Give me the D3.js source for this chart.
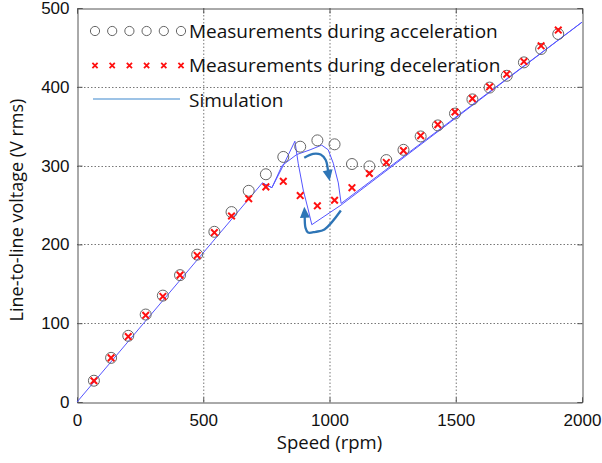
<!DOCTYPE html>
<html><head><meta charset="utf-8">
<script src="https://cdn.jsdelivr.net/npm/d3@7"></script>
<style>body{margin:0;background:#fff}svg{display:block}</style>
</head><body>
<svg id="c" width="602" height="463"></svg>
<script>
const speeds = [67,135,203,272,340,408,476,544,612,680,748,817,884,952,1020,1089,1158,1225,1293,1361,1429,1497,1566,1634,1702,1770,1838,1906];
const accelVolts = [27,56,84,111,135,161,187,216,241,268,289,311,324,332,327,302,299,307,320,337,351,366,384,399,414,431,448,467];
const decelVolts = [27,56,83,110,134,161,186,215,236,258,273,280,262,249,256,272,290,304,319,338,352,368,385,400,416,432,452,472];
const simAccelX = [0,734,772,812,870,923,969,995,1015,1035,1046,2000];
const simAccelY = [0,278,272,300,314,320,326,320,303,278,252,482];
const simDecelX = [2000,1046,930,915,896,876,863,812,772,734];
const simDecelY = [482,250,225,245,269,303,331,297,272,278];
const xTicks = [0,500,1000,1500,2000];
const yTicks = [0,100,200,300,400,500];
const legendLabels = ["Measurements during acceleration","Measurements during deceleration","Simulation"];
// annotation arrows (data coords)
const arrowUpX = [900,935,965,985,995];
const arrowUpY = [310,315,314,307,290];
const arrowDownX = [1045,980,945,915,905,902];
const arrowDownY = [243,219,216,215,221,238];

const svg = d3.select("#c");
const L=77, R=582, T=8, B=402;
const x = d3.scaleLinear().domain([0,2000]).range([L,R]);
const y = d3.scaleLinear().domain([0,500]).range([B,T]);
const tickFont = "'Liberation Sans', Arial, sans-serif";
const labFont = "'Open Sans', sans-serif";

// grid
const g = svg.append("g");
g.selectAll(".gx").data(xTicks.slice(1,-1)).enter().append("line")
  .attr("x1",d=>x(d)+0.5).attr("x2",d=>x(d)+0.5).attr("y1",T).attr("y2",B)
  .attr("stroke","#777").attr("stroke-dasharray","1.5,2").attr("stroke-width",1);
g.selectAll(".gy").data(yTicks.slice(1,-1)).enter().append("line")
  .attr("y1",d=>Math.round(y(d))+0.5).attr("y2",d=>Math.round(y(d))+0.5).attr("x1",L).attr("x2",R)
  .attr("stroke","#777").attr("stroke-dasharray","1.5,2").attr("stroke-width",1);

// axes via d3
const xAxis = d3.axisBottom(x).tickValues(xTicks).tickSize(-5).tickPadding(11).tickFormat(d3.format("d"));
const yAxis = d3.axisLeft(y).tickValues(yTicks).tickSize(-5).tickPadding(8).tickFormat(d3.format("d"));
const xa = svg.append("g").attr("transform",`translate(0,${B+0.5})`).call(xAxis);
const ya = svg.append("g").attr("transform",`translate(${L+0.5},0)`).call(yAxis);
[xa,ya].forEach(a=>{
  a.select(".domain").attr("stroke","#555");
  a.selectAll(".tick line").attr("stroke","#555");
  a.selectAll(".tick text").attr("font-family",tickFont).attr("font-size",17).attr("fill","#111");
});
// top/right ticks
svg.append("g").attr("transform",`translate(0,${T+0.5})`).call(d3.axisTop(x).tickValues(xTicks).tickSize(-5).tickFormat(""))
  .call(a=>{a.select(".domain").attr("stroke","#555");a.selectAll("line").attr("stroke","#555");});
svg.append("g").attr("transform",`translate(${R+0.5},0)`).call(d3.axisRight(y).tickValues(yTicks).tickSize(-5).tickFormat(""))
  .call(a=>{a.select(".domain").attr("stroke","#555");a.selectAll("line").attr("stroke","#555");});

// simulation
const line = d3.line().x(d=>x(d[0])).y(d=>y(d[1]));
const simColor = "#5555ff";
svg.append("path").datum(simAccelX.map((v,i)=>[v,simAccelY[i]])).attr("d",line)
  .attr("fill","none").attr("stroke",simColor).attr("stroke-width",1);
svg.append("path").datum(simDecelX.map((v,i)=>[v,simDecelY[i]])).attr("d",line)
  .attr("fill","none").attr("stroke",simColor).attr("stroke-width",1);

// arrows
const arrowColor = "#2e75b6";
const curve = d3.line().x(d=>x(d[0])).y(d=>y(d[1])).curve(d3.curveCatmullRom);
function arrow(xs, ys){
  const pts = xs.map((v,i)=>[v,ys[i]]);
  svg.append("path").datum(pts).attr("d",curve).attr("fill","none")
    .attr("stroke",arrowColor).attr("stroke-width",2.3);
  const p1 = [x(xs[xs.length-1]), y(ys[ys.length-1])];
  const p0 = [x(xs[xs.length-2]), y(ys[ys.length-2])];
  const ang = Math.atan2(p1[1]-p0[1], p1[0]-p0[0]);
  const len=11, w=5;
  const tip=[p1[0]+Math.cos(ang)*len*0.7, p1[1]+Math.sin(ang)*len*0.7];
  const bx=p1[0]-Math.cos(ang)*len*0.3, by=p1[1]-Math.sin(ang)*len*0.3;
  const a=[bx+Math.cos(ang+Math.PI/2)*w, by+Math.sin(ang+Math.PI/2)*w];
  const b=[bx-Math.cos(ang+Math.PI/2)*w, by-Math.sin(ang+Math.PI/2)*w];
  svg.append("path").attr("d",`M${tip}L${a}L${b}Z`).attr("fill",arrowColor);
}
arrow(arrowUpX, arrowUpY);
arrow(arrowDownX, arrowDownY);

// markers
svg.append("g").selectAll("circle").data(speeds).enter().append("circle")
  .attr("cx",d=>x(d)).attr("cy",(d,i)=>y(accelVolts[i])).attr("r",5.5)
  .attr("fill","none").attr("stroke","#666").attr("stroke-width",1);
function cross(sel, cx, cy, s, sw){
  sel.append("path").attr("d",`M${cx-s},${cy-s}L${cx+s},${cy+s}M${cx-s},${cy+s}L${cx+s},${cy-s}`)
    .attr("stroke","#ff1010").attr("stroke-width",sw).attr("fill","none");
}
const cg = svg.append("g");
speeds.forEach((d,i)=>cross(cg, x(d), y(decelVolts[i]), 3.3, 2));

// legend
const lg = svg.append("g");
for(let k=0;k<6;k++){
  lg.append("circle").attr("cx",95+k*17.2).attr("cy",31).attr("r",4.6).attr("fill","none").attr("stroke","#666");
  cross(lg, 95+k*17.2, 65.5, 2.6, 1.8);
}
lg.append("line").attr("x1",93).attr("x2",180).attr("y1",99).attr("y2",99).attr("stroke","#9dc3e6").attr("stroke-width",2.2);
legendLabels.forEach((t,i)=>{
  lg.append("text").attr("x",189).attr("y",[31,65,100][i]).attr("dy","0.35em")
    .attr("font-family",labFont).attr("font-size",19).attr("fill","#111").text(t);
});

// axis labels
svg.append("text").attr("x",(L+R)/2).attr("y",443).attr("dy","0.35em").attr("text-anchor","middle")
  .attr("font-family",labFont).attr("font-size",18.5).attr("fill","#111").text("Speed (rpm)");
svg.append("text").attr("transform",`translate(17,${(T+B)/2+5}) rotate(-90)`).attr("dy","0.35em").attr("text-anchor","middle")
  .attr("font-family",labFont).attr("font-size",18).attr("fill","#111").text("Line-to-line voltage (V rms)");
</script>
</body></html>
